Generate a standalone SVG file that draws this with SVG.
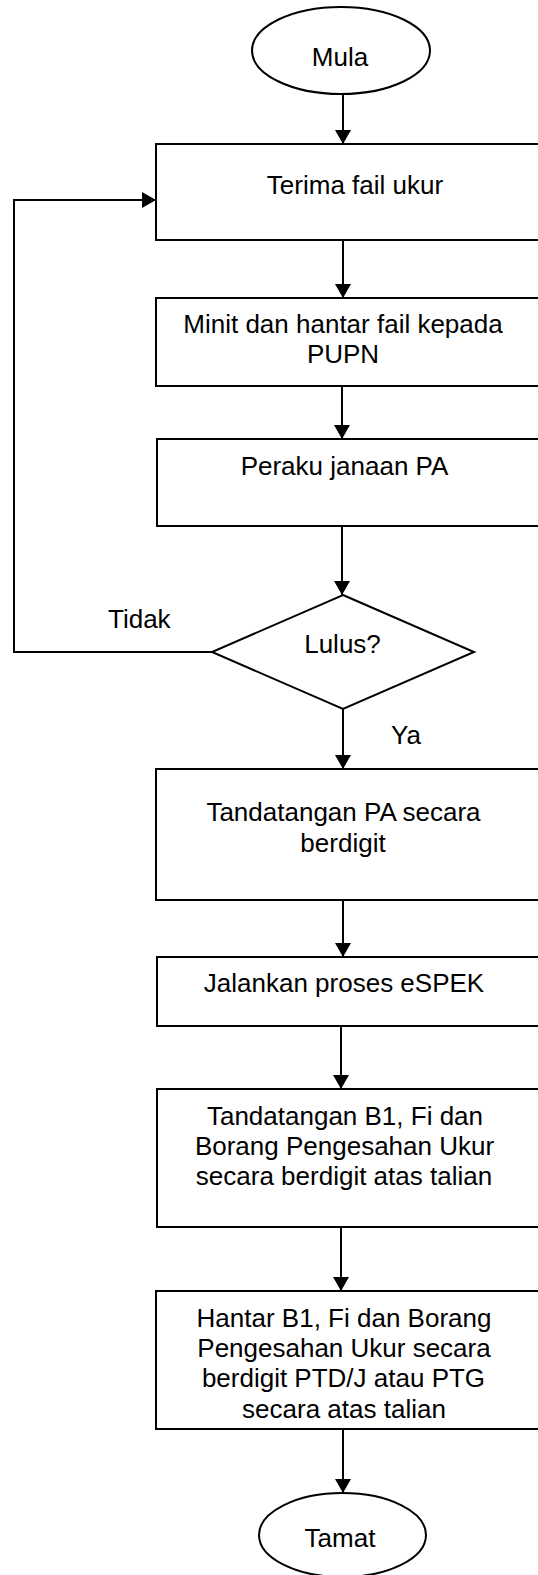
<svg xmlns="http://www.w3.org/2000/svg" width="538" height="1575" viewBox="0 0 538 1575">
<style>
.s{fill:#fff;stroke:#000;stroke-width:2}
.t{font-family:"Liberation Sans",Arial,sans-serif;font-size:26px;fill:#000;text-anchor:middle}
.l{font-family:"Liberation Sans",Arial,sans-serif;font-size:26px;fill:#000}
.c{fill:none;stroke:#000;stroke-width:2}
</style>
<defs>
<marker id="a" viewBox="0 0 14 16" refX="14" refY="8" markerWidth="14" markerHeight="16" markerUnits="userSpaceOnUse" orient="auto">
<path d="M0,0 L14,8 L0,16 z" fill="#000"/>
</marker>
</defs>
<rect width="538" height="1575" fill="#fff"/>
<g id="connectors">
<line class="c" x1="343" y1="94" x2="343" y2="144" marker-end="url(#a)"/>
<line class="c" x1="343" y1="240" x2="343" y2="298" marker-end="url(#a)"/>
<line class="c" x1="342" y1="386" x2="342" y2="439" marker-end="url(#a)"/>
<line class="c" x1="342" y1="526" x2="342" y2="595" marker-end="url(#a)"/>
<line class="c" x1="343" y1="709" x2="343" y2="769" marker-end="url(#a)"/>
<line class="c" x1="343" y1="900" x2="343" y2="957" marker-end="url(#a)"/>
<line class="c" x1="341" y1="1026" x2="341" y2="1089" marker-end="url(#a)"/>
<line class="c" x1="341" y1="1227" x2="341" y2="1291" marker-end="url(#a)"/>
<line class="c" x1="343" y1="1429" x2="343" y2="1493" marker-end="url(#a)"/>
<polyline class="c" points="212,652 14,652 14,200 156,200" marker-end="url(#a)"/>
<text class="l" x="108" y="628">Tidak</text>
<text class="l" x="391" y="744">Ya</text>
</g>
<g id="mula">
<ellipse class="s" cx="341" cy="50.5" rx="89" ry="43.5"/>
<text class="t" x="340" y="66">Mula</text>
</g>
<g id="terima">
<rect class="s" x="156" y="144" width="400" height="96"/>
<text class="t" x="355" y="194">Terima fail ukur</text>
</g>
<g id="minit">
<rect class="s" x="156" y="298" width="400" height="88"/>
<text class="t" x="343" y="333">Minit dan hantar fail kepada</text>
<text class="t" x="343" y="363">PUPN</text>
</g>
<g id="peraku">
<rect class="s" x="157" y="439" width="400" height="87"/>
<text class="t" x="344.5" y="475">Peraku janaan PA</text>
</g>
<g id="lulus">
<polygon class="s" points="343,595 474,652 343,709 212,652"/>
<text class="t" x="342.5" y="653">Lulus?</text>
</g>
<g id="tandatanganPA">
<rect class="s" x="156" y="769" width="400" height="131"/>
<text class="t" x="343.5" y="821">Tandatangan PA secara</text>
<text class="t" x="343" y="852">berdigit</text>
</g>
<g id="espek">
<rect class="s" x="157" y="957" width="400" height="69"/>
<text class="t" x="344" y="992">Jalankan proses eSPEK</text>
</g>
<g id="tandatanganB1">
<rect class="s" x="157" y="1089" width="400" height="138"/>
<text class="t" x="345" y="1125">Tandatangan B1, Fi dan</text>
<text class="t" x="344.5" y="1155">Borang Pengesahan Ukur</text>
<text class="t" x="344" y="1185">secara berdigit atas talian</text>
</g>
<g id="hantar">
<rect class="s" x="156" y="1291" width="400" height="138"/>
<text class="t" x="344" y="1327">Hantar B1, Fi dan Borang</text>
<text class="t" x="344" y="1357">Pengesahan Ukur secara</text>
<text class="t" x="343.5" y="1387">berdigit PTD/J atau PTG</text>
<text class="t" x="344" y="1418">secara atas talian</text>
</g>
<g id="tamat">
<ellipse class="s" cx="342.5" cy="1535" rx="83.5" ry="42"/>
<text class="t" x="340" y="1547">Tamat</text>
</g>
</svg>
